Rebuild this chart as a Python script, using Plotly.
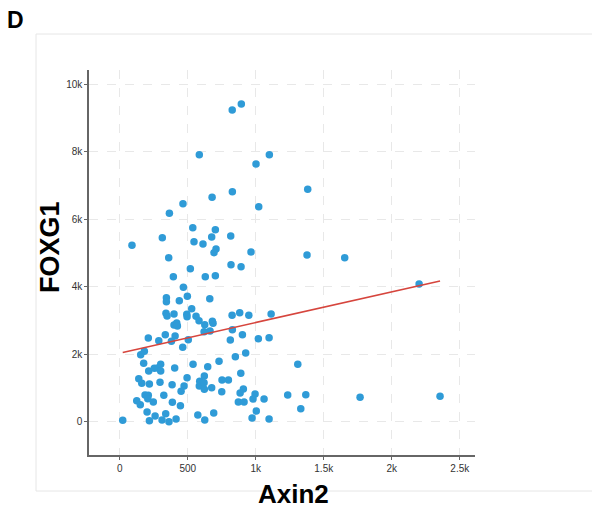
import plotly.graph_objects as go

# Axin2 (x) vs FOXG1 (y) expression values
axin2 = [827, 894, 585, 1002, 1100, 365, 465, 679, 828, 1022, 1382, 90, 313, 537, 703,
         676, 546, 612, 708, 693, 816, 965, 360, 519, 818, 892, 394, 629, 703, 1377,
         1654, 2201, 468, 343, 343, 438, 497, 662, 340, 348, 399, 529, 493, 495, 561,
         399, 419, 424, 583, 625, 681, 686, 826, 882, 949, 1113, 620, 664, 828, 210,
         287, 335, 407, 504, 813, 1019, 1098, 902, 380, 463, 926, 850, 154, 181, 176,
         213, 254, 279, 301, 301, 404, 539, 647, 730, 140, 162, 218, 296, 385, 495,
         473, 451, 588, 585, 622, 620, 622, 676, 752, 799, 750, 890, 909, 885, 872,
         914, 995, 980, 1061, 1004, 973, 1098, 125, 151, 186, 210, 206, 247, 324, 387,
         446, 201, 260, 338, 22, 218, 311, 362, 414, 574, 625, 691, 1309, 1235, 1368,
         1331, 1767, 2355]
foxg1 = [9235, 9416, 7914, 7638, 7914, 6177, 6461, 6650, 6817, 6372, 6888, 5228, 5454, 5750, 5691,
         5474, 5335, 5267, 5119, 5009, 5504, 5030, 4861, 4535, 4653, 4594, 4298, 4298, 4327, 4941,
         4861, 4081, 3983, 3675, 3557, 3586, 3716, 3645, 3213, 3133, 3192, 3350, 3183, 3112, 3124,
         2866, 2925, 2836, 2993, 2875, 2976, 2916, 3153, 3231, 3153, 3192, 2667, 2688, 2727, 2481,
         2400, 2579, 2540, 2430, 2421, 2460, 2490, 2579, 2383, 2205, 2036, 1927, 1986, 2086, 1731,
         1503, 1583, 1590, 1701, 1503, 1592, 1701, 1630, 1790, 1274, 1138, 1117, 1168, 1097, 1304,
         1058, 901, 1197, 1058, 1354, 1156, 960, 1008, 1236, 1236, 889, 1434, 969, 851, 584,
         584, 821, 673, 673, 317, 110, 80, 622, 504, 791, 782, 682, 584, 782, 575,
         474, 287, 169, 237, 41, 30, 50, 0, 80, 199, 50, 258, 1701, 791, 800,
         385, 723, 753]

# linear fit shown in the chart
fit_intercept = 2033
fit_slope = 0.907

x_tickvals = [0, 500, 1000, 1500, 2000, 2500]
x_ticktext = ["0", "500", "1k", "1.5k", "2k", "2.5k"]
y_tickvals = [0, 2000, 4000, 6000, 8000, 10000]
y_ticktext = ["0", "2k", "4k", "6k", "8k", "10k"]

fit_x = [min(axin2), max(axin2)]
fit_y = [fit_intercept + fit_slope * v for v in fit_x]

fig = go.Figure()
fig.add_trace(go.Scatter(
    x=axin2, y=foxg1, mode="markers",
    marker=dict(color="#2f9bd7", size=7.5, line=dict(width=0)),
    showlegend=False, hoverinfo="x+y"))
fig.add_trace(go.Scatter(
    x=fit_x, y=fit_y, mode="lines",
    line=dict(color="#d6453d", width=1.6),
    showlegend=False, hoverinfo="skip"))

axis_common = dict(
    showgrid=True, gridcolor="#e8e8e8", griddash="dash", gridwidth=1,
    zeroline=False, showline=True, linecolor="#666666", linewidth=1.5,
    ticks="outside", ticklen=3, tickcolor="#666666", tickwidth=1,
    tickfont=dict(family="Liberation Sans, Arial, sans-serif", size=10, color="#333333"),
)

fig.update_xaxes(range=[-226, 2612], tickvals=x_tickvals, ticktext=x_ticktext, **axis_common)
fig.update_yaxes(range=[-987, 10424], tickvals=y_tickvals, ticktext=y_ticktext, **axis_common)

fig.update_layout(
    width=592, height=509,
    margin=dict(l=89, r=117, t=70, b=54),
    paper_bgcolor="white", plot_bgcolor="white",
    shapes=[
        dict(type="rect", xref="paper", yref="paper",
             x0=(36 - 89) / 386, x1=(600 - 89) / 386,
             y0=(509 - 54 - 491) / 385, y1=(509 - 54 - 34) / 385,
             line=dict(color="#e6e6e6", width=1), fillcolor="rgba(0,0,0,0)", layer="below"),
    ],
    annotations=[
        dict(text="<b>D</b>", xref="paper", yref="paper",
             x=(5 - 89) / 386, y=(509 - 54 - 5) / 385, xanchor="left", yanchor="top",
             showarrow=False, font=dict(family="Liberation Sans, Arial, sans-serif", size=23, color="black")),
        dict(text="<b>FOXG1</b>", xref="paper", yref="paper",
             x=(50 - 89) / 386, y=(509 - 54 - 247) / 385, xanchor="center", yanchor="middle",
             textangle=-90, showarrow=False,
             font=dict(family="Liberation Sans, Arial, sans-serif", size=27, color="black")),
        dict(text="<b>Axin2</b>", xref="paper", yref="paper",
             x=(293 - 89) / 386, y=(509 - 54 - 494) / 385, xanchor="center", yanchor="middle",
             showarrow=False,
             font=dict(family="Liberation Sans, Arial, sans-serif", size=26, color="black")),
    ],
)

fig.write_html("out.html")
